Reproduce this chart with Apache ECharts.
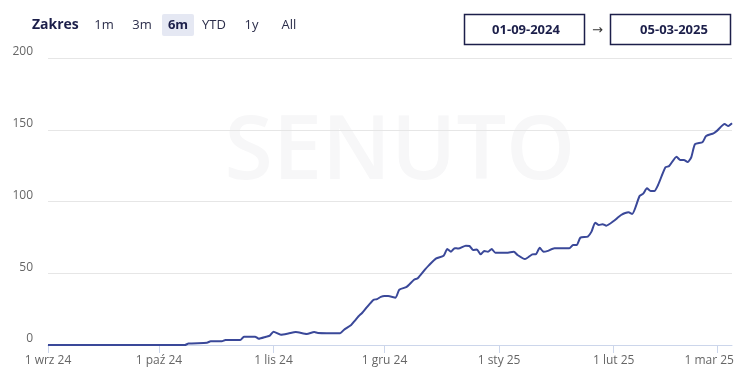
<!DOCTYPE html>
<html>
<head>
<meta charset="utf-8">
<script src="https://cdn.jsdelivr.net/npm/echarts@6/dist/echarts.min.js"></script>
<style>
html,body{margin:0;padding:0;background:#fff;}
#c{width:747px;height:375px;}
</style>
</head>
<body>
<div id="c"></div>
<script>
const dates = [
'2024-09-01','2024-10-08','2024-10-09','2024-10-14','2024-10-15','2024-10-18','2024-10-19','2024-10-23','2024-10-24','2024-10-27','2024-10-28','2024-10-30','2024-10-31',
'2024-11-01','2024-11-03','2024-11-05','2024-11-07','2024-11-10','2024-11-12','2024-11-13','2024-11-19','2024-11-20','2024-11-22','2024-11-23','2024-11-24','2024-11-25','2024-11-26','2024-11-28','2024-11-29','2024-11-30',
'2024-12-01','2024-12-02','2024-12-04','2024-12-05','2024-12-07','2024-12-09','2024-12-10','2024-12-12','2024-12-13','2024-12-15','2024-12-17','2024-12-18','2024-12-19','2024-12-20','2024-12-21','2024-12-23','2024-12-24','2024-12-25','2024-12-26','2024-12-27','2024-12-28','2024-12-29','2024-12-30','2024-12-31',
'2025-01-03','2025-01-05','2025-01-06','2025-01-08','2025-01-10','2025-01-11','2025-01-12','2025-01-13','2025-01-14','2025-01-16','2025-01-20','2025-01-21','2025-01-22','2025-01-23','2025-01-25','2025-01-26','2025-01-27','2025-01-28','2025-01-29','2025-01-30',
'2025-02-01','2025-02-03','2025-02-05','2025-02-06','2025-02-08','2025-02-09','2025-02-10','2025-02-11','2025-02-12','2025-02-13','2025-02-15','2025-02-16','2025-02-18','2025-02-19','2025-02-20','2025-02-21','2025-02-22','2025-02-23','2025-02-25','2025-02-26','2025-02-28',
'2025-03-01','2025-03-03','2025-03-04','2025-03-05'];
const values = [
0,0,1,1.6,2.6,2.6,3.5,3.5,5.8,5.8,4.4,5.8,6.5,
9.3,7.2,8,9,7.7,9,8.4,8.2,10.5,14,17,20,22.5,25.6,31.4,32,33.5,
34.1,34.1,33,38.5,40.5,45.5,46.5,52.7,55.5,60.4,62.2,66.9,65,67.5,67.2,69.2,69,66.2,66.6,63.2,65.5,65,66.9,64.3,
64.3,65,62.7,59.9,63.2,63.4,67.8,65,65.4,67.4,67.4,69.7,69.7,74.8,75.6,79,85.2,83.6,84.2,83.1,
86.4,90.6,92.5,91.3,103.8,105.5,109.2,107.3,107.3,111.5,123.8,124.7,131.2,128.9,128.9,127.5,131,140,141.3,145.6,147.5,
149.4,154,152.6,154.5];
const tickDates = ['2024-09-01','2024-10-01','2024-11-01','2024-12-01','2025-01-01','2025-02-01','2025-03-01'];
const tickLabels = ['1 wrz 24','1 paź 24','1 lis 24','1 gru 24','1 sty 25','1 lut 25','1 mar 25'];
const rangeStart = '2024-09-01';
const rangeEnd = '2025-03-05';
const yMin = 0, yMax = 200, yStep = 50;
const rangeButtons = ['1m','3m','6m','YTD','1y','All'];
const activeButton = '6m';
const dateFromText = '01-09-2024';
const dateToText = '05-03-2025';

function ts(s){const p=s.split('-').map(Number);return Date.UTC(p[0],p[1]-1,p[2]);}
const seriesData = dates.map((d,i)=>[ts(d), values[i]]);
const tickTs = tickDates.map(ts);

const navy = '#1c1f4a';
const btnX = [104,142,178,214,251.5,289];
const graphics = [
  {type:'text', z:-10, style:{x:400,y:154,text:'SENUTO', fill:'#f7f7f8', font:'600 88px "Open Sans"', textAlign:'center', textVerticalAlign:'middle'}},
  {type:'text', style:{x:32,y:25,text:'Zakres',fill:navy,font:'bold 14px "Open Sans"',textVerticalAlign:'middle'}},
  {type:'rect', shape:{x:162,y:14,width:32,height:22,r:2}, style:{fill:'#e5e8f3'}},
  {type:'rect', shape:{x:464.5,y:14.5,width:120,height:30}, style:{fill:'#fff',stroke:navy,lineWidth:1.5}},
  {type:'rect', shape:{x:610.5,y:14.5,width:120,height:30}, style:{fill:'#fff',stroke:navy,lineWidth:1.5}},
  {type:'text', style:{x:526,y:30,text:dateFromText,fill:navy,font:'bold 13px "Open Sans"',textAlign:'center',textVerticalAlign:'middle'}},
  {type:'text', style:{x:674,y:30,text:dateToText,fill:navy,font:'bold 13px "Open Sans"',textAlign:'center',textVerticalAlign:'middle'}},
  {type:'text', style:{x:597.5,y:31,text:'→',fill:'#333',font:'13px "DejaVu Sans"',textAlign:'center',textVerticalAlign:'middle'}}
];
rangeButtons.forEach((b,i)=>{
  graphics.push({type:'text', style:{x:btnX[i],y:25,text:b,fill: b===activeButton?navy:'#2b2d4a',
    font:(b===activeButton?'bold ':'')+'13px "Open Sans"',textAlign:'center',textVerticalAlign:'middle'}});
});

const chart = echarts.init(document.getElementById('c'), null, {renderer:'canvas'});
chart.setOption({
  animation:false,
  backgroundColor:'#fff',
  grid:{left:48,right:15,top:58,bottom:30,containLabel:false},
  graphic:graphics,
  xAxis:{
    type:'value', min:ts(rangeStart), max:ts(rangeEnd),
    axisLine:{show:true,lineStyle:{color:'#ccd6eb',width:1}},
    axisTick:{show:true,customValues:tickTs,length:8,lineStyle:{color:'#ccd6eb'}},
    splitLine:{show:false},
    axisLabel:{
      customValues:tickTs, color:'#666', fontSize:12, fontFamily:'Open Sans', margin:10,
      showMinLabel:true, showMaxLabel:true, hideOverlap:false,
      formatter:function(v){const i=tickTs.indexOf(v); if(i<0) return ''; return i===tickTs.length-1 ? '{last|'+tickLabels[i]+'}' : tickLabels[i];},
      rich:{last:{color:'#666',fontSize:12,fontFamily:'Open Sans',padding:[0,16,0,0]}}
    }
  },
  yAxis:{
    type:'value', min:yMin, max:yMax, interval:yStep,
    axisLine:{show:false}, axisTick:{show:false},
    splitLine:{lineStyle:{color:'#e6e6e6'}},
    axisLabel:{color:'#666',fontSize:12,fontFamily:'Open Sans',margin:15,verticalAlign:'bottom'}
  },
  series:[{
    type:'line', data:seriesData, showSymbol:false, smooth:0.2,
    lineStyle:{color:'#3a4899',width:2}, itemStyle:{color:'#3a4899'}, z:5
  }]
});
</script>
</body>
</html>
